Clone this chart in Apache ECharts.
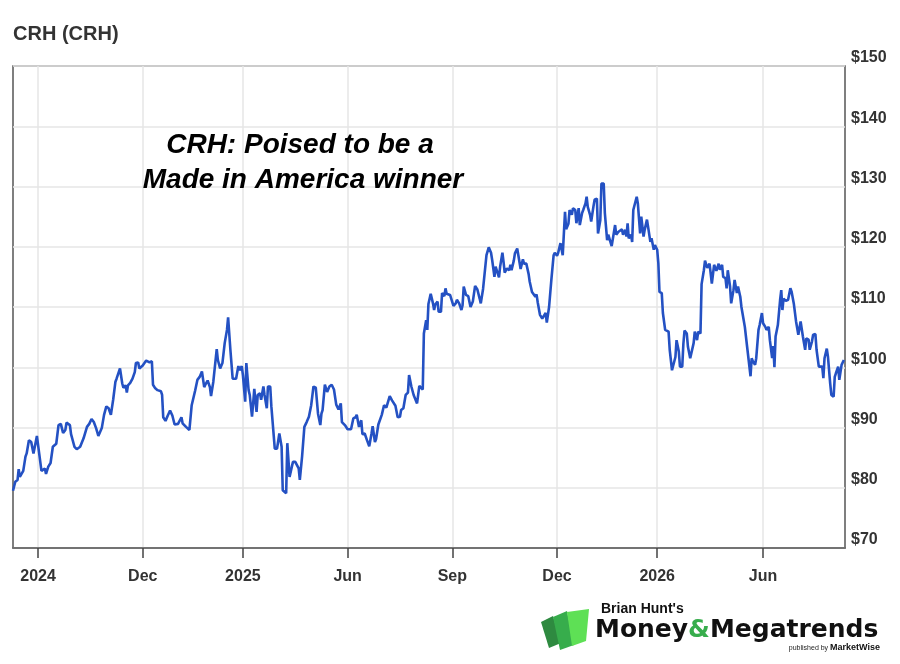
<!DOCTYPE html>
<html>
<head>
<meta charset="utf-8">
<script src="https://cdn.jsdelivr.net/npm/echarts@6/dist/echarts.min.js"></script>
<style>html,body{margin:0;padding:0;background:#fff}#c{width:900px;height:664px}</style>
</head>
<body>
<div id="c"></div>
<script>
// ---- data ----
const chartTitle = 'CRH (CRH)';
const annotationLines = ['CRH: Poised to be a', 'Made in America winner'];
// x: days since the left edge of the chart
const tickDays = [22, 114, 202, 294, 386, 478, 566, 659];
const tickLabels = ['2024', 'Dec', '2025', 'Jun', 'Sep', 'Dec', '2026', 'Jun'];
const yMin = 70, yMax = 150, yStep = 10;
const days = [0,2,4,5,6,9,11,12,14,16,18,19,21,23,25,26,28,29,31,33,35,38,40,42,44,46,47,50,51,54,56,59,62,65,67,69,71,73,75,78,80,82,84,85,86,88,90,91,94,96,97,99,100,101,103,105,107,108,110,111,114,117,120,122,
123,125,127,130,131,132,134,136,138,140,142,145,148,149,152,155,157,158,160,162,164,166,168,169,171,173,174,176,179,180,182,184,186,188,189,191,193,196,198,199,201,202,204,205,207,208,210,211,212,214,215,217,218,220,221,223,224,226,227,230,232,234,236,237,240,241,243,245,246,248,251,252,254,256,258,260,262,264,266,268,270,271,272,274,276,278,280,282,284,286,288,289,292,294,297,299,301,302,304,306,307,309,311,313,315,316,318,319,321,324,326,328,329,331,333,336,338,340,341,343,345,347,348,350,352,355,356,357,360,361,363,364,365,367,369,370,371,373,374,376,377,379,380,381,384,385,387,389,390,392,394,395,396,398,400,402,404,406,408,410,411,413,414,416,417,418,420,421,423,424,425,427,428,430,431,432,434,436,437,438,440,441,443,444,446,448,449,451,453,454,456,457,459,460,461,463,465,466,468,469,471,473,475,476,478,479,481,482,483,485,486,488,489,491,492,494,495,497,498,500,501,503,504,505,507,508,510,511,513,514,516,517,519,520,522,523,524,526,527,529,530,532,533,535,536,538,539,540,541,543,544,545,546,548,549,551,552,554,555,557,558,560,561,563,564,566,567,568,570,571,573,574,576,577,579,580,582,583,585,586,588,589,590,592,593,595,596,598,599,601,602,604,605,607,608,610,612,614,616,618,620,621,623,624,626,627,628,630,631,633,634,636,637,639,640,642,643,645,646,648,649,650,652,653,655,656,658,659,661,662,664,665,667,668,669,670,672,674,675,676,677,679,681,683,684,686,688,690,692,693,694,696,697,699,700,702,703,705,706,708,709,711,712,713,715,716,718,719,721,722,723,725,726,728,730];
const prices = [79.5,81.0,81.3,83.1,81.8,82.8,85.2,85.7,87.9,87.6,85.7,86.0,88.6,85.7,82.8,82.5,83.2,82.3,83.5,84.1,86.8,87.3,90.4,90.6,89.1,89.6,90.8,90.4,88.9,86.8,86.4,86.8,88.2,90.1,90.6,91.4,90.9,89.9,88.6,89.9,92.1,93.5,93.2,93.5,92.1,94.6,97.6,98.1,99.8,97.3,96.6,97.0,95.8,97.0,97.4,98.1,99.2,100.7,100.8,99.8,100.3,101.1,100.8,101.0,
97.1,96.5,96.2,96.0,95.4,91.7,91.1,92.0,92.8,92.0,90.5,90.6,91.7,90.7,90.1,89.6,93.7,93.7,96.1,97.9,98.4,99.3,96.7,97.1,97.8,96.7,95.2,97.6,103.0,101.2,99.8,100.7,104.0,106.2,108.3,102.9,98.1,98.1,100.2,99.5,100.2,98.7,94.3,100.7,96.2,95.4,91.8,94.0,96.4,92.6,95.4,95.7,94.6,96.8,95.4,93.2,96.8,96.8,93.5,86.5,86.5,89.0,86.8,79.6,79.1,87.4,81.8,83.5,84.3,84.3,83.2,81.3,85.2,90.1,90.9,91.8,93.7,96.8,96.6,92.3,90.4,92.3,92.9,97.1,95.9,96.8,97.1,96.3,93.8,93.0,94.0,90.9,90.3,89.7,89.7,91.5,91.7,92.1,90.1,91.2,88.9,89.0,87.9,86.9,89.0,90.2,87.6,88.1,90.5,92.1,93.7,93.3,93.4,95.2,94.5,93.6,91.7,91.8,92.9,93.2,95.4,95.8,98.7,96.8,95.4,94.0,94.0,96.9,96.3,105.6,107.8,106.2,110.5,112.2,110.6,109.5,110.4,110.9,109.2,109.2,112.3,111.8,113.1,112.2,112.0,111.7,110.2,110.6,111.2,110.6,109.5,110.3,113.4,112.0,111.8,110.0,110.9,113.5,112.9,111.4,110.6,113.0,113.3,118.6,118.9,119.9,119.0,117.8,115.0,116.7,116.4,114.9,116.7,119.0,117.5,115.7,116.4,116.1,117.0,116.1,117.7,118.9,119.7,118.6,116.3,117.9,117.2,117.2,115.5,114.2,112.5,112.8,111.7,112.1,110.8,108.7,108.1,107.8,109.0,107.4,110.0,114.5,118.6,119.0,118.5,119.0,120.6,120.3,118.6,125.8,122.9,123.8,126.1,125.3,126.4,126.1,123.9,126.4,123.6,125.6,126.1,127.2,128.3,126.6,125.3,124.2,126.7,127.8,128.0,122.2,124.4,130.5,130.5,125.6,121.1,122.0,122.2,120.1,120.1,123.6,122.0,122.5,122.2,122.9,122.0,122.8,121.7,123.9,121.4,122.0,120.8,126.1,126.4,128.3,127.2,122.2,125.0,121.7,122.8,124.5,123.3,120.8,121.4,119.5,120.3,119.5,117.3,112.5,112.3,109.0,106.2,106.1,105.9,102.9,99.5,99.5,101.7,104.5,102.6,100.1,100.1,103.9,106.1,105.6,103.4,101.5,101.5,104.0,105.9,104.5,105.9,105.6,113.8,116.1,117.7,116.5,117.2,113.9,117.0,116.0,117.2,116.2,117.0,115.0,114.8,113.1,116.1,113.4,110.6,112.8,114.5,112.3,113.4,111.7,110.0,107.8,106.7,103.4,103.4,98.5,101.5,101.0,100.4,101.5,106.2,107.0,109.0,107.3,106.7,106.2,106.7,104.5,101.5,103.5,100.0,105.1,107.0,111.2,112.8,109.5,111.4,111.0,111.2,113.1,112.6,110.6,107.6,105.4,107.6,107.6,105.1,102.9,104.8,104.6,102.9,104.3,105.4,105.5,102.9,100.1,99.9,100.1,98.2,101.5,103.1,101.8,97.3,95.4,95.1,98.4,99.0,100.1,97.9,100.4,101.2];

// ---- chart ----
const seriesData = days.map((d, i) => [d, prices[i]]);
const chart = echarts.init(document.getElementById('c'), null, {renderer: 'canvas'});
const FONT = '"Liberation Sans", Arial, Helvetica, sans-serif';

chart.setOption({
  animation: false,
  backgroundColor: '#ffffff',
  title: {
    text: chartTitle,
    left: 13, top: 24, padding: 0,
    textStyle: {fontFamily: FONT, fontSize: 20, fontWeight: 'bold', color: '#333333', lineHeight: 20}
  },
  grid: {left: 13, right: 55, top: 66, bottom: 116, show: true, borderColor: '#555555', borderWidth: 1.5, containLabel: false},
  xAxis: {
    type: 'value', min: 0, max: 731,
    axisLine: {show: true, lineStyle: {color: '#555555', width: 1.5}},
    axisTick: {show: true, length: 10, customValues: tickDays, lineStyle: {color: '#444444', width: 1.5}},
    axisLabel: {
      customValues: tickDays,
      formatter: v => { const i = tickDays.indexOf(v); return i >= 0 ? tickLabels[i] : ''; },
      fontFamily: FONT, fontSize: 16, fontWeight: 'bold', color: '#333333', margin: 21
    },
    splitLine: {show: true, lineStyle: {color: '#e6e6e6', width: 1.5}}
  },
  yAxis: {
    type: 'value', position: 'right', min: yMin, max: yMax, interval: yStep,
    axisLine: {show: false}, axisTick: {show: false},
    axisLabel: {
      formatter: v => '$' + v, fontFamily: FONT, fontSize: 16, fontWeight: 'bold', color: '#333333',
      margin: 6, verticalAlign: 'bottom', lineHeight: 16
    },
    splitLine: {show: true, lineStyle: {color: '#e6e6e6', width: 1.5}}
  },
  series: [{
    type: 'line', data: seriesData, showSymbol: false, smooth: false,
    lineStyle: {color: '#2451c3', width: 2.6}, clip: true, z: 3
  }],
  graphic: [
    {type: 'text', z: 10, style: {text: annotationLines[0], x: 300, y: 145, fill: '#000', font: 'italic bold 28px ' + FONT, align: 'center', verticalAlign: 'middle', textAlign: 'center', textVerticalAlign: 'middle'}},
    {type: 'text', z: 10, style: {text: annotationLines[1], x: 303, y: 180, fill: '#000', font: 'italic bold 28px ' + FONT, align: 'center', verticalAlign: 'middle', textAlign: 'center', textVerticalAlign: 'middle'}},
    // logo
    {type: 'polygon', z: 10, shape: {points: [[541,622],[553,616],[561,643],[549,648]]}, style: {fill: '#2e8a40'}},
    {type: 'polygon', z: 11, shape: {points: [[553,617],[567,611],[574,645],[560,650]]}, style: {fill: '#37ad4c'}},
    {type: 'polygon', z: 12, shape: {points: [[567,612],[589,609],[586,641],[572,646]]}, style: {fill: '#5ee055'}},
    {type: 'text', z: 10, style: {text: "Brian Hunt's", x: 601, y: 609, fill: '#111', font: 'bold 14px ' + FONT, align: 'left', verticalAlign: 'middle', textAlign: 'left', textVerticalAlign: 'middle'}},
    {type: 'text', z: 10, style: {
      text: '{a|Money}{b|&}{a|Megatrends}', x: 595, y: 630, align: 'left', verticalAlign: 'middle', textAlign: 'left', textVerticalAlign: 'middle',
      rich: {
        a: {fontFamily: '"DejaVu Sans", sans-serif', fontWeight: 'bold', fontSize: 25, fill: '#111', color: '#111'},
        b: {fontFamily: '"DejaVu Sans", sans-serif', fontWeight: 'bold', fontSize: 25, fill: '#37ad4c', color: '#37ad4c'}
      }
    }},
    {type: 'text', z: 10, style: {
      text: '{p|published by }{m|MarketWise}', x: 880, y: 648, align: 'right', verticalAlign: 'middle', textAlign: 'right', textVerticalAlign: 'middle',
      rich: {
        p: {fontFamily: FONT, fontSize: 7, fill: '#222', color: '#222'},
        m: {fontFamily: FONT, fontWeight: 'bold', fontSize: 9, fill: '#111', color: '#111'}
      }
    }}
  ]
});
</script>
</body>
</html>
